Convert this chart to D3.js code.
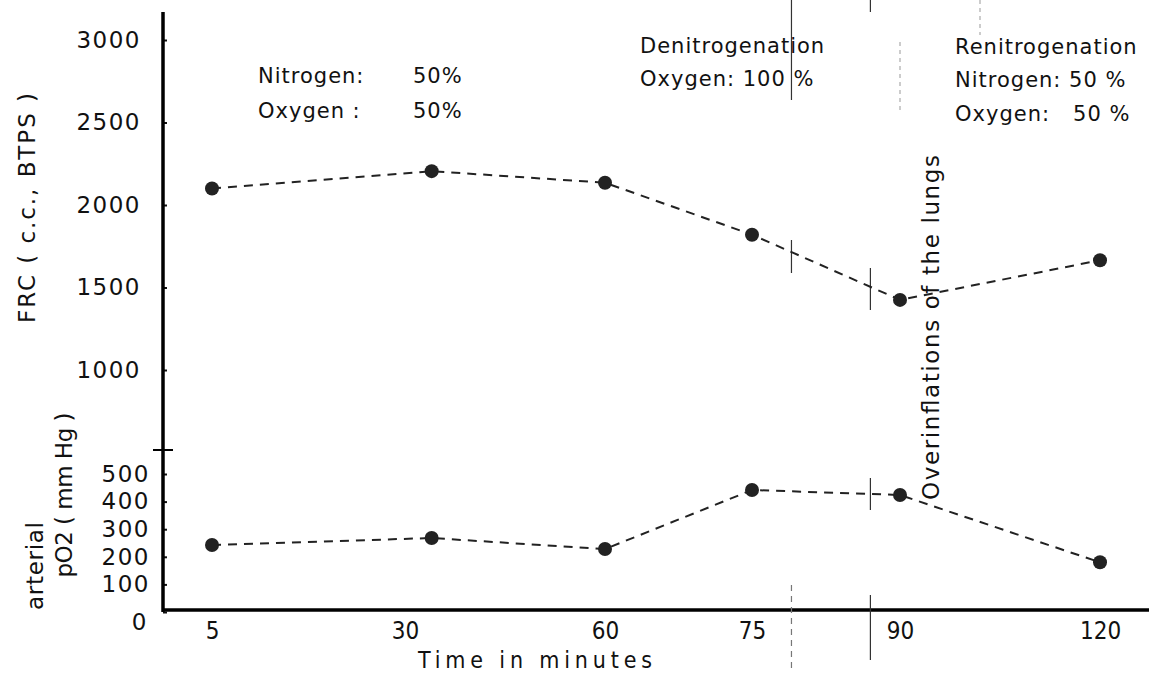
<!DOCTYPE html>
<meta charset="utf-8">
<script src="https://cdn.jsdelivr.net/npm/d3@7"></script>
<style>
body { margin: 0; background: #fff; }
text {
  font-family: "DejaVu Sans", sans-serif;
  fill: #111;
}
.yaxis text { font-size: 23px; letter-spacing: 1.5px; }
.xaxis text {
  font-family: "Liberation Sans Narrow", "DejaVu Sans Condensed", "Liberation Sans", sans-serif;
  font-stretch: condensed;
  font-size: 24px;
}
.note { font-size: 21px; }
path.series {
  fill: none;
  stroke: #222;
  stroke-width: 2px;
  stroke-dasharray: 9,7;
}
</style>
<body>
<script>
// time axis labels (minutes) and the moments the samples were taken
var minutes = [5, 30, 60, 75, 90, 120];
var sampleTimes = [5, 34, 60, 75, 90, 120];

// FRC (c.c., BTPS) and arterial pO2 (mm Hg)
var frc = [2100, 2205, 2135, 1820, 1425, 1665];
var po2 = [243, 268, 228, 442, 424, 180];

var frcTicks = [1000, 1500, 2000, 2500, 3000];
var po2Ticks = [0, 100, 200, 300, 400, 500];

// overinflations of the lungs (minutes)
var events = [79, 87];

var width = 1149,
    height = 674;

var axisX = 163,
    baseY = 610,
    splitY = 450;

var svg = d3.select("body").append("svg")
    .attr("width", width)
    .attr("height", height);

// the time axis of the original is not linear, so map label by label
var x = d3.scaleLinear()
    .domain(minutes)
    .range([212, 405, 605, 752, 900, 1100]);

var yTop = d3.scaleLinear()
    .domain([1000, 3000])
    .range([370, 40]);

var yBot = d3.scaleLinear()
    .domain([0, 500])
    .range([612, 474]);

// y axes
svg.append("g")
    .attr("class", "yaxis")
    .attr("transform", "translate(" + axisX + ",0)")
    .call(d3.axisLeft(yTop).tickValues(frcTicks).tickSize(-4).tickPadding(22).tickFormat(d3.format("d")))
    .call(g => g.select(".domain").remove());

svg.append("g")
    .attr("class", "yaxis")
    .attr("transform", "translate(" + axisX + ",0)")
    .call(d3.axisLeft(yBot).tickValues(po2Ticks).tickSize(-4).tickPadding(13).tickFormat(d3.format("d")))
    .call(g => g.select(".domain").remove())
    .call(g => g.selectAll(".tick").filter(d => d == 0).select("text").attr("dy", "0.75em").attr("x", -15));

svg.selectAll(".yaxis line").attr("stroke", "#111").attr("stroke-width", 2);

// x axis
var xg = svg.append("g")
    .attr("class", "xaxis")
    .attr("transform", "translate(0," + baseY + ")")
    .call(d3.axisBottom(x).tickValues(minutes).tickSize(0).tickPadding(12));
xg.select(".domain").remove();

// heavy axis lines
svg.append("line")
    .attr("x1", axisX).attr("x2", axisX)
    .attr("y1", 12).attr("y2", baseY + 2)
    .attr("stroke", "#000").attr("stroke-width", 3.5);
svg.append("line")
    .attr("x1", axisX - 1).attr("x2", width)
    .attr("y1", baseY).attr("y2", baseY)
    .attr("stroke", "#000").attr("stroke-width", 3.5);
// cross where the two panels meet
svg.append("line")
    .attr("x1", axisX - 10).attr("x2", axisX + 10)
    .attr("y1", splitY).attr("y2", splitY)
    .attr("stroke", "#000").attr("stroke-width", 2);

// overinflation marks
var segs = [
  [events[0], 0, 100, false], [events[0], 240, 273, false], [events[0], 585, 670, true],
  [events[1], 0, 12, false], [events[1], 268, 310, false], [events[1], 478, 510, false], [events[1], 595, 660, false]
];
svg.append("g").selectAll("line")
    .data(segs)
  .enter().append("line")
    .attr("x1", d => x(d[0])).attr("x2", d => x(d[0]))
    .attr("y1", d => d[1]).attr("y2", d => d[2])
    .attr("stroke", d => d[3] ? "#777" : "#333")
    .attr("stroke-width", 1.2)
    .attr("stroke-dasharray", d => d[3] ? "6,5" : null);

// faint phase boundary traces
svg.append("line")
    .attr("x1", x(90)).attr("x2", x(90)).attr("y1", 42).attr("y2", 113)
    .attr("stroke", "#999").attr("stroke-width", 1).attr("stroke-dasharray", "4,4");
svg.append("line")
    .attr("x1", x(102)).attr("x2", x(102)).attr("y1", 0).attr("y2", 35)
    .attr("stroke", "#999").attr("stroke-width", 1).attr("stroke-dasharray", "4,4");

// series
var lineTop = d3.line().x((d, i) => x(sampleTimes[i])).y(d => yTop(d));
var lineBot = d3.line().x((d, i) => x(sampleTimes[i])).y(d => yBot(d));

svg.append("path").attr("class", "series").attr("d", lineTop(frc));
svg.append("path").attr("class", "series").attr("d", lineBot(po2));

svg.append("g").selectAll("circle")
    .data(frc)
  .enter().append("circle")
    .attr("cx", (d, i) => x(sampleTimes[i]))
    .attr("cy", d => yTop(d))
    .attr("r", 7)
    .attr("fill", "#222");

svg.append("g").selectAll("circle")
    .data(po2)
  .enter().append("circle")
    .attr("cx", (d, i) => x(sampleTimes[i]))
    .attr("cy", d => yBot(d))
    .attr("r", 7)
    .attr("fill", "#222");

// axis titles
function vtext(tx, ty, str, len, size) {
  svg.append("text")
      .attr("transform", "translate(" + tx + "," + ty + ") rotate(-90)")
      .attr("text-anchor", "middle")
      .style("font-size", size + "px")
      .attr("textLength", len)
      .attr("lengthAdjust", "spacing")
      .text(str);
}
vtext(35, 208, "FRC ( c.c., BTPS )", 230, 23);
vtext(43, 566, "arterial", 88, 23);
vtext(72, 495, "pO2 ( mm Hg )", 165, 23);

svg.append("text")
    .attr("x", 535).attr("y", 668)
    .attr("text-anchor", "middle")
    .style("font-family", "'Liberation Sans Narrow', 'DejaVu Sans Condensed', sans-serif")
    .style("font-size", "23px")
    .attr("textLength", 234)
    .attr("lengthAdjust", "spacing")
    .text("Time in minutes");

svg.append("text")
    .attr("transform", "translate(939,500) rotate(-90)")
    .style("font-size", "23px")
    .attr("textLength", 345)
    .attr("lengthAdjust", "spacing")
    .text("Overinflations of the lungs");

// gas mixture notes
var notes = [
  ["Nitrogen:", 258, 83], ["50%", 413, 83],
  ["Oxygen :", 258, 118], ["50%", 413, 118],
  ["Denitrogenation", 640, 53], ["Oxygen: 100 %", 640, 86],
  ["Renitrogenation", 955, 54], ["Nitrogen: 50 %", 955, 87], ["Oxygen:   50 %", 955, 121]
];
svg.append("g").selectAll("text")
    .data(notes)
  .enter().append("text")
    .attr("class", "note")
    .attr("x", d => d[1])
    .attr("y", d => d[2])
    .style("letter-spacing", "1px")
    .style("white-space", "pre")
    .text(d => d[0]);
</script>
</body>
</html>
